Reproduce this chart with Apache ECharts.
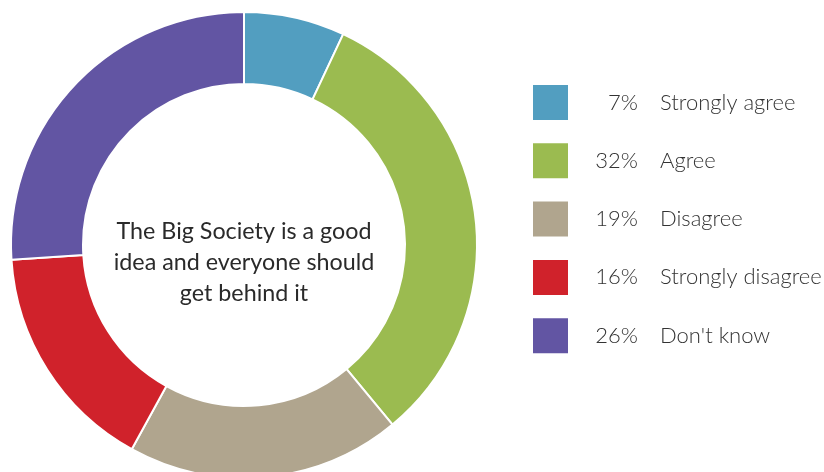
<!DOCTYPE html>
<html>
<head>
<meta charset="utf-8">
<script src="https://cdn.jsdelivr.net/npm/echarts@6/dist/echarts.min.js"></script>
<style>
  html, body { margin: 0; padding: 0; background: #fff; }
  #chart { width: 824px; height: 472px; }
</style>
</head>
<body>
<div id="chart"></div>
<script>
// Survey responses (percent)
const categories = ['Strongly agree', 'Agree', 'Disagree', 'Strongly disagree', "Don't know"];
const values = [7, 32, 19, 16, 26];
const colors = ['#529ec0', '#9bbb50', '#b0a58e', '#d0222b', '#6255a3'];
const centerText = 'The Big Society is a good\nidea and everyone should\nget behind it';

const FONT = 'Lato, "Open Sans", sans-serif';

const chart = echarts.init(document.getElementById('chart'), null, { renderer: 'canvas' });

chart.setOption({
  animation: false,
  color: colors,
  legend: {
    orient: 'vertical',
    left: 533,
    top: 85,
    padding: 0,
    itemWidth: 35,
    itemHeight: 35,
    itemGap: 23.3,
    icon: 'rect',
    selectedMode: false,
    itemStyle: { borderWidth: 0 },
    data: categories,
    formatter: function (name) {
      const v = values[categories.indexOf(name)];
      return '{p|' + v + '%}{n|' + name + '}';
    },
    textStyle: {
      fontFamily: FONT,
      fontSize: 22,
      fontWeight: 300,
      color: '#333',
      rich: {
        p: { width: 65, align: 'right', lineHeight: 28, fontFamily: FONT, fontSize: 22, fontWeight: 300, color: '#333' },
        n: { align: 'right', lineHeight: 28, padding: [0, 0, 0, 22], fontFamily: FONT, fontSize: 22, fontWeight: 300, color: '#333' }
      }
    }
  },
  graphic: [{
    type: 'text',
    x: 244,
    y: 262,
    style: {
      text: centerText,
      x: 0,
      y: 0,
      textAlign: 'center',
      textVerticalAlign: 'middle',
      fontFamily: FONT,
      fontSize: 23.3,
      fontWeight: 400,
      lineHeight: 31,
      fill: '#2a2a2a'
    }
  }],
  series: [{
    type: 'pie',
    center: [244, 245],
    radius: [161, 233],
    startAngle: 90,
    clockwise: true,
    avoidLabelOverlap: false,
    label: { show: false },
    labelLine: { show: false },
    emphasis: { disabled: true },
    itemStyle: { borderColor: '#fff', borderWidth: 2 },
    data: categories.map((c, i) => ({ name: c, value: values[i] }))
  }]
});
</script>
</body>
</html>
